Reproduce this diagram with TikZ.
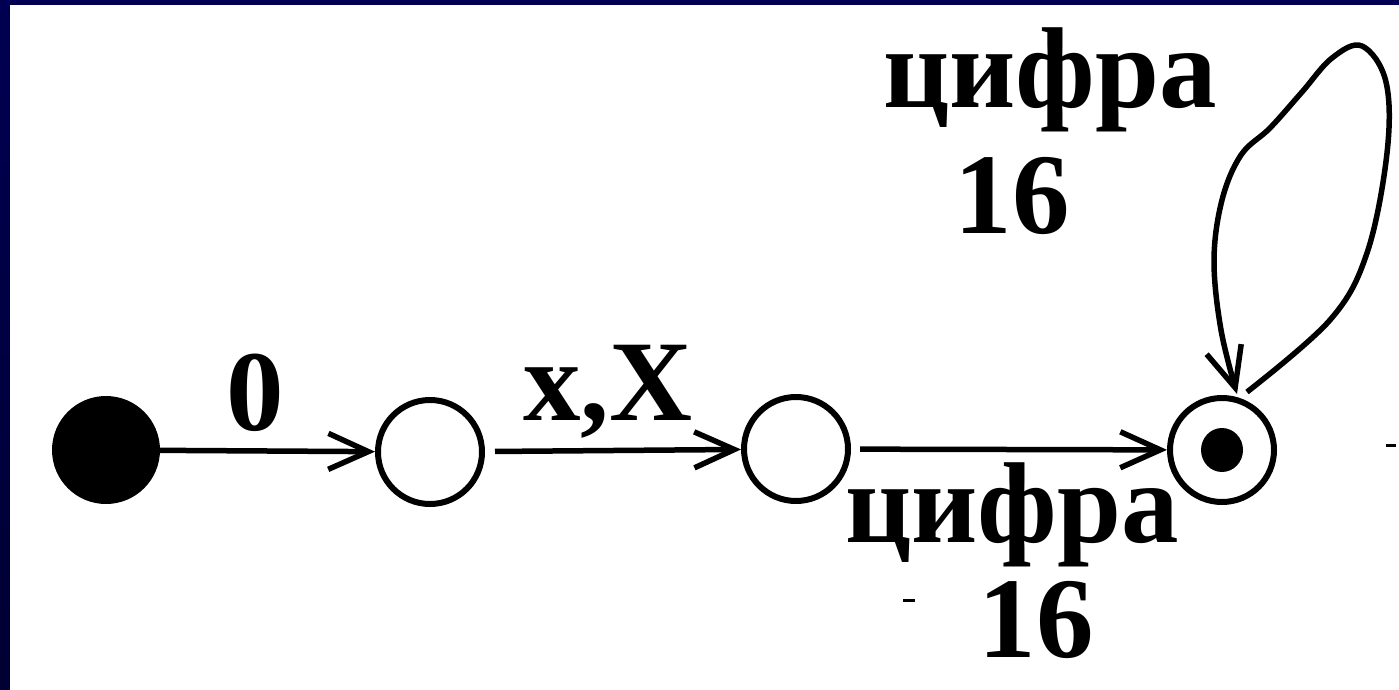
\documentclass[tikz,border=0pt]{standalone}
\usepackage{fontspec}
\setmainfont{Liberation Serif}
\usetikzlibrary{arrows.meta}
\definecolor{navy}{RGB}{0,0,82}
\definecolor{navydark}{RGB}{0,0,50}
\begin{document}
\begin{tikzpicture}[x=1pt,y=-1pt,
  state/.style={circle,draw=black,line width=6pt,minimum size=104pt,inner sep=0pt},
  startstate/.style={circle,fill=black,minimum size=108pt,inner sep=0pt},
  edge/.style={line width=5.5pt,-{Straight Barb[length=40pt,width=36pt,line width=5.5pt]}},
  lbl/.style={font=\bfseries\fontsize{115}{115}\selectfont,anchor=base,inner sep=0pt,text=black}]
\useasboundingbox (0,0) rectangle (1399,690);
\shade[top color=navy,bottom color=navydark] (0,0) rectangle (1399,690);
\fill[white] (10,5) rectangle (1399,690);
% states
\node[startstate] (s) at (106,450) {};
\node[state] (q1) at (430,452) {};
\node[state] (q2) at (796,449) {};
\node[state] (q3) at (1222,450) {};
\fill[black] (q3.center) ellipse [x radius=21pt,y radius=22pt];
% edges
\draw[edge] (s) -- (q1);
\draw[edge,shorten <=10pt] (q1) -- (q2);
\draw[edge,shorten <=9pt] (q2) -- (q3);
% loop
\coordinate (la) at (1247,392);
\coordinate (lb) at (1237,394);
\draw[edge] plot[smooth,tension=0.6] coordinates {(la) (1330,320) (1367,253) (1387,153) (1386,82) (1362,46) (1332,58) (1302,92) (1270,128) (1241,155) (1222,200) (1214,260) (1221,330) (lb)};
% labels
\node[lbl] (l0) at (255,430) {0};
\node[lbl] (lx) at (608,420) {x,X};
\node[lbl] (lt1) at (1050,108) {цифра};
\node[lbl] (lt2) at (1012,233) {16};
\node[lbl] (lb1) at (1012,542) {цифра};
\node[lbl] (lb2) at (1036,657) {16};
% small marks
\draw[line width=3pt] (903,600) -- (915,600);
\draw[line width=3pt] (1386,445) -- (1396,445);
\end{tikzpicture}
\end{document}
